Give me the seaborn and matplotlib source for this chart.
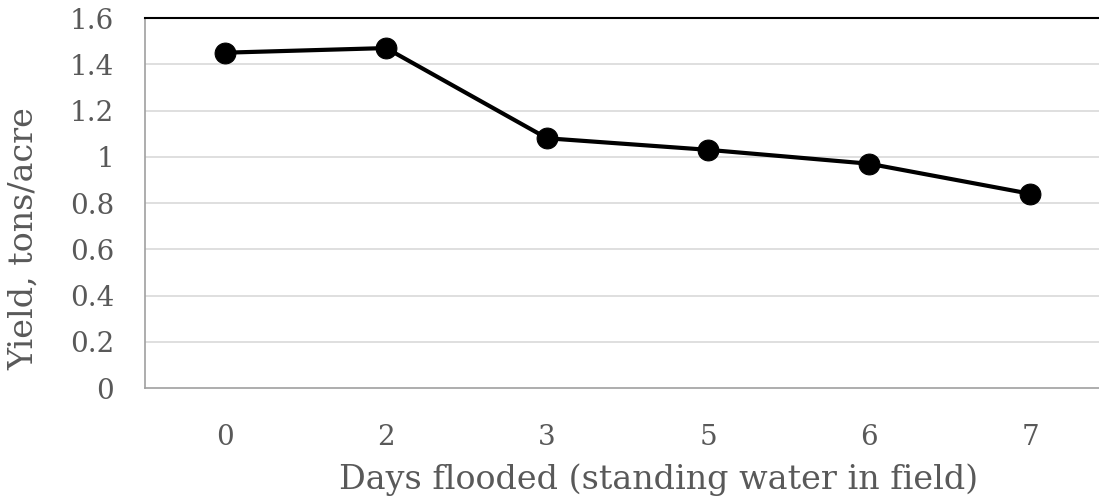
# Rendimento por dias alagados
import numpy as np
import pandas as pd
import matplotlib
matplotlib.use('Agg')
import matplotlib.pyplot as plt
import seaborn as sns

# dados
dias = ['0', '2', '3', '5', '6', '7']
rendimento = [1.45, 1.47, 1.08, 1.03, 0.97, 0.84]
y_ticks = [0, 0.2, 0.4, 0.6, 0.8, 1.0, 1.2, 1.4, 1.6]
y_labels = ['0', '0.2', '0.4', '0.6', '0.8', '1', '1.2', '1.4', '1.6']

df = pd.DataFrame({'Dias': dias, 'Yield': rendimento})

sns.set_style('white')
plt.rcParams['font.family'] = ['DejaVu Serif']
cinza = '#595959'

fig = plt.figure(figsize=(10.99, 4.96), dpi=100)
ax = fig.add_axes([0.1315, 0.2177, 0.879, 0.746])

# grade horizontal
for t in y_ticks[1:-1]:
    ax.axhline(t, color='#d9d9d9', lw=1.2, zorder=0)

sns.lineplot(data=df, x='Dias', y='Yield', color='black', lw=3, marker='o',
             markersize=15, markeredgecolor='black', sort=False, ax=ax)

ax.set_xlim(-0.5, 5.5)
ax.set_ylim(0, 1.6)
ax.set_yticks(y_ticks)
ax.set_yticklabels(y_labels)

ax.spines['top'].set_color('black')
ax.spines['top'].set_linewidth(1.5)
ax.spines['right'].set_visible(False)
for s in ['left', 'bottom']:
    ax.spines[s].set_color('#a0a0a0')
    ax.spines[s].set_linewidth(1.2)

ax.tick_params(axis='both', length=0, labelsize=20, labelcolor=cinza)
ax.tick_params(axis='x', pad=26)
ax.tick_params(axis='y', pad=22)

ax.set_xlabel('Days flooded (standing water in field)', fontsize=24, color=cinza)
ax.set_ylabel('Yield, tons/acre', fontsize=24, color=cinza)
ax.xaxis.set_label_coords(0.5326, -0.203)
ax.yaxis.set_label_coords(-0.108, 0.405)

fig.savefig('out.png', dpi=100)
